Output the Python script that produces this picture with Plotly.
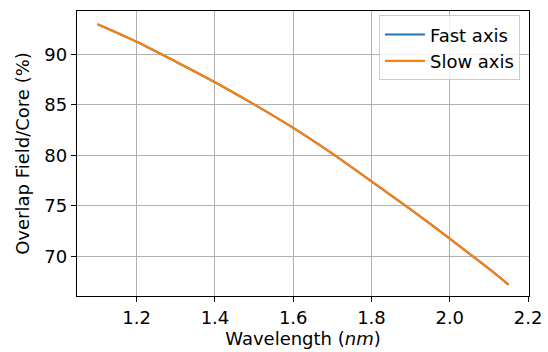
import plotly.graph_objects as go

wavelength = [1.10, 1.20, 1.30, 1.40, 1.50, 1.60, 1.70, 1.80, 1.90, 2.00, 2.10, 2.15]
fast_axis = [92.98, 91.25, 89.28, 87.25, 85.05, 82.72, 80.17, 77.43, 74.65, 71.75, 68.77, 67.20]
slow_axis = [92.98, 91.25, 89.28, 87.25, 85.05, 82.72, 80.17, 77.43, 74.65, 71.75, 68.77, 67.20]

x_ticks = [1.2, 1.4, 1.6, 1.8, 2.0, 2.2]
y_ticks = [70, 75, 80, 85, 90]

font = dict(family="DejaVu Sans", size=18, color="#000000")

fig = go.Figure()
fig.add_trace(go.Scatter(x=wavelength, y=fast_axis, mode="lines", name="Fast axis",
                         line=dict(color="#1f77b4", width=2.2, shape="spline", smoothing=0.6)))
fig.add_trace(go.Scatter(x=wavelength, y=slow_axis, mode="lines", name="Slow axis",
                         line=dict(color="#ff7f0e", width=2.2, shape="spline", smoothing=0.6)))

axis_common = dict(showline=True, linecolor="#000000", linewidth=1.3, mirror=True,
                   ticks="outside", ticklen=5, tickwidth=1.2, tickcolor="#000000",
                   showgrid=True, gridcolor="#b0b0b0", gridwidth=1.1, zeroline=False,
                   tickfont=font, automargin=False)

fig.update_xaxes(range=[1.0475, 2.2025], tickvals=x_ticks,
                 ticktext=[f"{v:.1f}" for v in x_ticks],
                 title=dict(text="Wavelength (<i>nm</i>)", font=font, standoff=4),
                 **axis_common)
fig.update_yaxes(range=[66.07, 94.3], tickvals=y_ticks,
                 ticktext=[str(v) for v in y_ticks],
                 title=dict(text="Overlap Field/Core (%)", font=font, standoff=10),
                 **axis_common)

fig.update_layout(
    width=548, height=352,
    margin=dict(l=77, r=19, t=11, b=56, autoexpand=False),
    paper_bgcolor="#ffffff", plot_bgcolor="#ffffff",
    font=font,
    showlegend=True,
    legend=dict(x=0.98, y=0.985, xanchor="right", yanchor="top",
                bgcolor="rgba(255,255,255,0.8)", bordercolor="#cccccc", borderwidth=1,
                font=font, tracegroupgap=0, itemwidth=40),
)

fig.write_html("out.html", config={"displayModeBar": False},
               post_script="document.body.style.margin='0px';document.body.style.overflow='hidden';")
